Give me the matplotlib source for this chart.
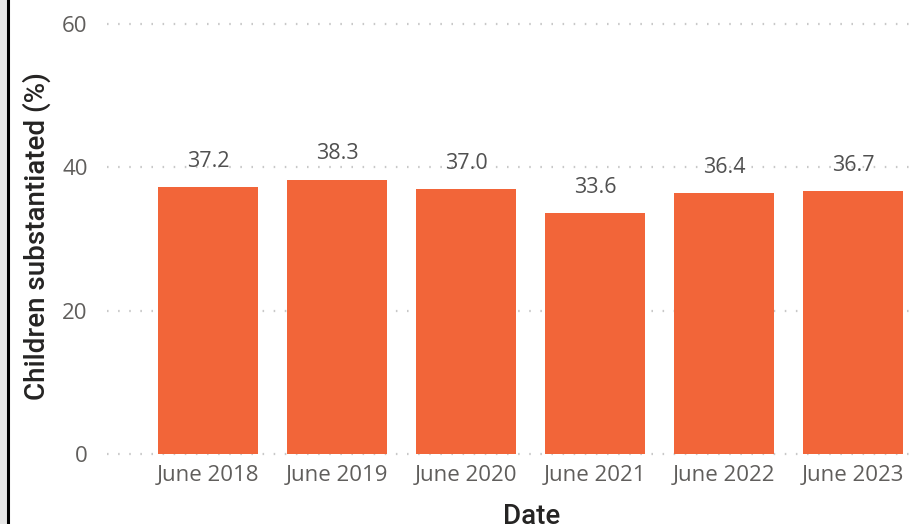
import matplotlib
matplotlib.use("Agg")
import matplotlib.pyplot as plt
from matplotlib.patches import Rectangle
from matplotlib.lines import Line2D

categories = ["June 2018", "June 2019", "June 2020", "June 2021", "June 2022", "June 2023"]
values = [37.2, 38.3, 37.0, 33.6, 36.4, 36.7]
y_ticks = [0, 20, 40, 60]

W, H = 909, 524
fig = plt.figure(figsize=(W / 100, H / 100), dpi=100)
fig.patch.set_facecolor("white")

# left frame strip
fig.add_artist(Rectangle((0, 0), 7 / W, 1, transform=fig.transFigure, color="#e6e6e6", zorder=0))
fig.add_artist(Line2D([8 / W, 8 / W], [0, 1], transform=fig.transFigure, color="black", lw=2.2))

ax_left, ax_right = 107, 909
ax_top, ax_bot = 24, 454
ax = fig.add_axes([ax_left / W, (H - ax_bot) / H, (ax_right - ax_left) / W, (ax_bot - ax_top) / H])
ax.set_facecolor("none")

x = list(range(len(categories)))
bars = ax.bar(x, values, width=0.775, color="#F26539", zorder=2)

step = 129.0
x0 = (ax_left - 208) / step
x1 = (ax_right - 208) / step
ax.set_xlim(x0, x1)
ax.set_ylim(0, 60)

for s in ax.spines.values():
    s.set_visible(False)

ax.set_yticks(y_ticks)
ax.set_yticklabels([str(t) for t in y_ticks])
for t in y_ticks:
    ax.axhline(t, color="#c8c8c8", lw=1.6, linestyle=(0, (0.7, 4.3)), zorder=1, clip_on=False)

ax.set_xticks(x)
ax.set_xticklabels(categories)
ax.tick_params(axis="both", length=0, labelsize=16, labelcolor="#605E5C")
ax.tick_params(axis="y", pad=14)
ax.tick_params(axis="x", pad=8)
for lab in ax.get_xticklabels() + ax.get_yticklabels():
    lab.set_fontfamily("Open Sans")

for xi, v in zip(x, values):
    ax.annotate(f"{v:.1f}", (xi, v), xytext=(0, 11), textcoords="offset points",
                ha="center", va="bottom", fontsize=15.5, color="#505050", family="Open Sans")

fig.text(532 / W, (H - 516) / H, "Date", ha="center", va="center",
         fontsize=20, color="#252423", family="Roboto", fontweight="medium")
fig.text(37 / W, (H - 236) / H, "Children substantiated (%)", ha="center", va="center",
         rotation=90, fontsize=20, color="#252423", family="Roboto", fontweight="medium")

fig.savefig("out.png", dpi=100, facecolor="white")
